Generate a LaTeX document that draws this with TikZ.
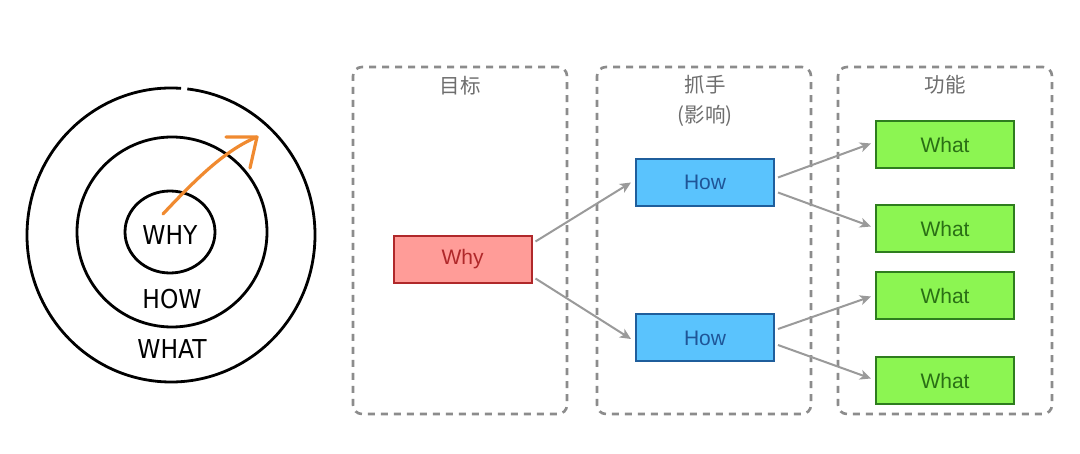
\documentclass[tikz,border=0pt]{standalone}
\usepackage{fontspec}
\setmainfont{Liberation Sans}
\newfontfamily\cjk{Noto Sans CJK SC}
\newfontfamily\hand{DejaVu Sans}
\usetikzlibrary{arrows.meta}
\definecolor{dashgray}{HTML}{8C8C8C}
\definecolor{labgray}{HTML}{6E6E6E}
\definecolor{arrgray}{HTML}{9A9A9A}
\definecolor{whyfill}{HTML}{FF9C98}
\definecolor{whydraw}{HTML}{B0282A}
\definecolor{howfill}{HTML}{5AC3FD}
\definecolor{howdraw}{HTML}{1F5E9C}
\definecolor{howtext}{HTML}{1F5597}
\definecolor{whatfill}{HTML}{8CF552}
\definecolor{whatdraw}{HTML}{2E7D1E}
\definecolor{whattext}{HTML}{2A6F15}
\definecolor{orangearr}{HTML}{F08A30}
\tikzset{
  container/.style={draw=dashgray, line width=2.6pt, dash pattern=on 7pt off 6pt,
    rounded corners=9pt, minimum width=214pt, minimum height=347pt, inner sep=0pt},
  collabel/.style={text=labgray, font=\cjk\fontsize{20.5}{24}\selectfont, inner sep=0pt},
  boxnode/.style={line width=2pt, minimum width=138pt, minimum height=47pt, inner sep=0pt,
    font=\fontsize{21}{24}\selectfont},
  whybox/.style={boxnode, draw=whydraw, fill=whyfill, text=whydraw},
  howbox/.style={boxnode, draw=howdraw, fill=howfill, text=howtext},
  whatbox/.style={boxnode, draw=whatdraw, fill=whatfill, text=whattext},
  conn/.style={draw=arrgray, line width=2pt, -{Stealth[length=11pt,width=10pt,inset=3pt]}},
  ring/.style={draw=black, line width=2.8pt},
  handtext/.style={font=\hand\fontsize{26}{30}\selectfont, inner sep=0pt}
}
\begin{document}
\begin{tikzpicture}[x=1pt,y=-1pt]
\useasboundingbox (0,0) rectangle (1080,454);
\fill[white] (0,0) rectangle (1080,454);
% left: golden circle
\draw[ring] (171,235) ++(86:144pt and 147pt) arc[start angle=86, end angle=443.5, x radius=144pt, y radius=147pt];
\draw[ring] (172,232) ellipse[x radius=95pt, y radius=95pt];
\draw[ring] (170,232) ellipse[x radius=45pt, y radius=41pt];
\node[handtext] (twhy) at (170,235) {\addfontfeature{FakeStretch=0.9}WHY};
\node[handtext] (thow) at (172,299) {\addfontfeature{FakeStretch=0.9}HOW};
\node[handtext] (twhat) at (172,349) {\addfontfeature{FakeStretch=0.9}WHAT};
\draw[draw=orangearr, line width=3.2pt, line cap=round] (163,214) .. controls (195,180) and (225,150) .. (257,137);
\draw[draw=orangearr, line width=3.2pt, line cap=round, line join=round] (226,137) -- (257,137) -- (250,168);
% containers
\node[container] (c1) at (460,240.5) {};
\node[container] (c2) at (704,240.5) {};
\node[container] (c3) at (945,240.5) {};
\node[collabel] (l1) at (460,86) {目标};
\node[collabel] (l2) at (705,85) {抓手};
\node[collabel] (l2b) at (705,116) {(影响)};
\node[collabel] (l3) at (945,85) {功能};
% boxes
\node[whybox] (why) at (462.5,259.5) {Why};
\node[howbox] (how1) at (705,182.5) {How};
\node[howbox] (how2) at (705,338) {How};
\node[whatbox] (what1) at (945,144.5) {What};
\node[whatbox] (what2) at (945,228.5) {What};
\node[whatbox] (what3) at (945,295.5) {What};
\node[whatbox] (what4) at (945,380.5) {What};
% connectors
\draw[conn] ([xshift=3pt,yshift=18pt]why.east) -- ([xshift=-4pt]how1.west);
\draw[conn] ([xshift=3pt,yshift=-19pt]why.east) -- ([xshift=-4pt,yshift=-1pt]how2.west);
\draw[conn] ([xshift=3pt,yshift=5pt]how1.east) -- ([xshift=-4pt,yshift=1pt]what1.west);
\draw[conn] ([xshift=3pt,yshift=-10pt]how1.east) -- ([xshift=-4pt,yshift=2pt]what2.west);
\draw[conn] ([xshift=3pt,yshift=9pt]how2.east) -- ([xshift=-4pt,yshift=-1pt]what3.west);
\draw[conn] ([xshift=3pt,yshift=-7pt]how2.east) -- ([xshift=-4pt,yshift=2pt]what4.west);
\end{tikzpicture}
\end{document}
